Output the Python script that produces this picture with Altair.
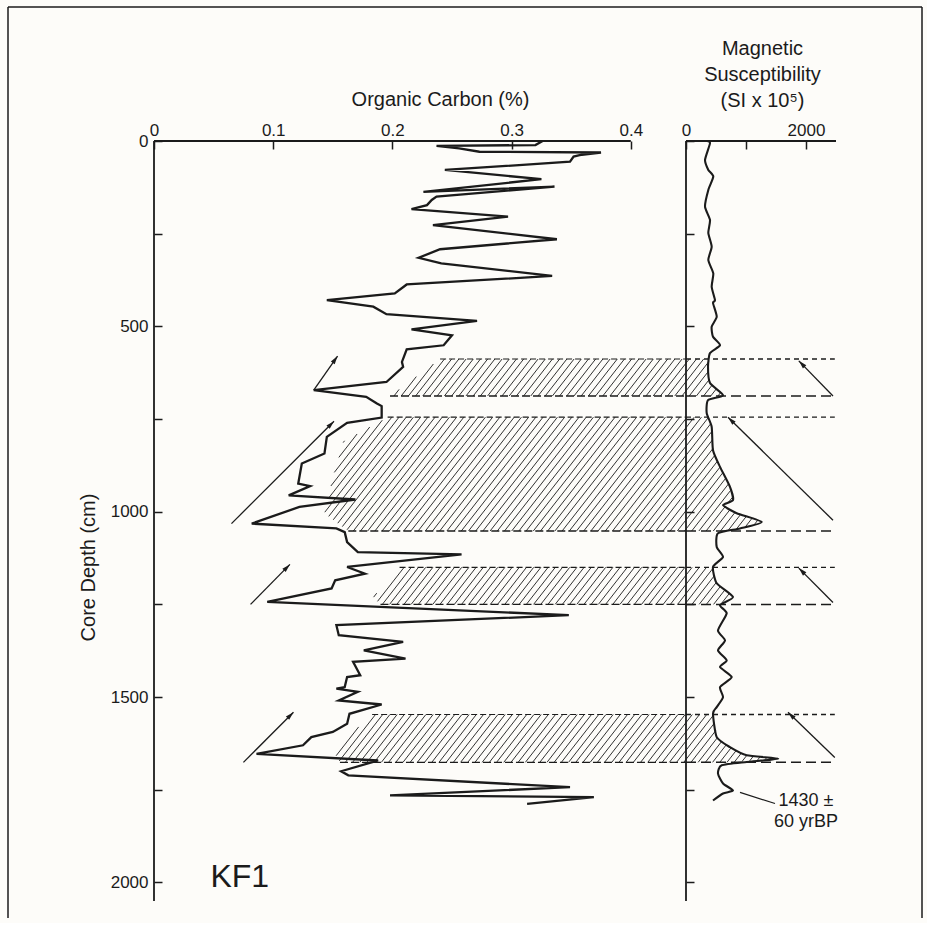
import math
import numpy as np
import pandas as pd
import altair as alt

# ---------------- data ----------------
oc_depth = [0, 11, 13, 20, 29, 31, 38, 42, 56, 78, 103, 137, 123, 150, 159, 173, 184, 204, 227, 265,
            292, 315, 330, 364, 387, 411, 429, 447, 467, 485, 508, 524, 551, 562, 596, 609, 650, 672, 690, 708,
            715, 746, 760, 798, 843, 870, 924, 931, 956, 967, 987, 1032, 1045, 1055, 1082, 1109, 1115, 1149, 1167, 1185,
            1207, 1243, 1279, 1306, 1333, 1351, 1374, 1396, 1405, 1441, 1446, 1473, 1477, 1486, 1509, 1520, 1545, 1572, 1594, 1608,
            1630, 1653, 1671, 1700, 1711, 1743, 1765, 1770, 1788]
oc_value = [0.326, 0.320, 0.237, 0.256, 0.273, 0.375, 0.357, 0.352, 0.349, 0.244, 0.325, 0.226, 0.336, 0.237, 0.233, 0.229, 0.216, 0.297, 0.234, 0.338,
            0.240, 0.222, 0.241, 0.334, 0.212, 0.202, 0.145, 0.184, 0.195, 0.271, 0.216, 0.250, 0.243, 0.212, 0.208, 0.209, 0.195, 0.134, 0.178, 0.187,
            0.191, 0.191, 0.162, 0.145, 0.143, 0.124, 0.121, 0.131, 0.113, 0.169, 0.122, 0.082, 0.153, 0.160, 0.162, 0.171, 0.258, 0.162, 0.177, 0.152,
            0.149, 0.095, 0.348, 0.153, 0.155, 0.209, 0.176, 0.211, 0.167, 0.173, 0.162, 0.160, 0.153, 0.171, 0.155, 0.191, 0.164, 0.162, 0.150, 0.132,
            0.125, 0.086, 0.188, 0.157, 0.163, 0.349, 0.198, 0.369, 0.313]

ms_depth = [0, 6, 51, 78, 96, 132, 177, 213, 248, 285, 321, 357, 393, 429, 437, 474, 501, 528, 551, 572,
            609, 653, 686, 699, 734, 771, 834, 879, 933, 969, 982, 1004, 1028, 1045, 1058, 1095, 1122, 1149, 1193, 1230,
            1252, 1274, 1320, 1347, 1374, 1401, 1419, 1446, 1473, 1500, 1527, 1544, 1608, 1635, 1657, 1666, 1675, 1684, 1706, 1733,
            1752, 1760, 1779]
ms_value = [345, 400, 317, 372, 455, 372, 317, 400, 372, 428, 372, 455, 428, 483, 450, 512, 428, 450, 567, 400,
            367, 400, 617, 367, 345, 428, 450, 567, 733, 783, 617, 845, 1262, 900, 533, 512, 617, 450, 512, 783,
            567, 678, 533, 650, 533, 678, 567, 762, 567, 617, 512, 450, 512, 733, 1012, 1538, 1012, 595, 533, 617,
            783, 617, 450]

band_top = [588, 745, 1150, 1547]
band_bottom = [688, 1052, 1250, 1676]
hatch_left_depth = [[588, 688], [745, 810, 907, 1005, 1052], [1150, 1230, 1250], [1547, 1644, 1676]]
hatch_left_value = [[0.240, 0.198], [0.196, 0.159, 0.150, 0.143, 0.163], [0.206, 0.184, 0.190], [0.183, 0.150, 0.156]]

oc_arrow_tail_value = [0.134, 0.065, 0.081, 0.075]
oc_arrow_tail_depth = [672, 1032, 1250, 1676]
oc_arrow_head_value = [0.154, 0.151, 0.114, 0.117]
oc_arrow_head_depth = [580, 756, 1142, 1541]
ms_arrow_tail_value = [2450, 2450, 2450, 2480]
ms_arrow_tail_depth = [688, 1023, 1245, 1663]
ms_arrow_head_value = [1880, 700, 1880, 1700]
ms_arrow_head_depth = [593, 745, 1152, 1541]

oc_ticks = [0, 0.1, 0.2, 0.3, 0.4]
ms_ticks = [0, 1000, 2000]
depth_ticks = list(range(0, 2001, 250))

date_label = ["1430 ±", "60 yrBP"]
date_label_value = [2000, 2000]
date_label_depth = [1779, 1838]
date_leader_value = [900, 1483]
date_leader_depth = [1757, 1787]

core_name = ["KF1"]
core_name_value = [0.072]
core_name_depth = [1984]

# ---------------- layout constants ----------------
FONT = "Liberation Sans"
INK = "#1b1b1b"
LW, RW, H = 532, 150, 760
XMAX_L = 0.4463
XMAX_R = 2500
YMAX = 2050
sx = LW / XMAX_L
sy = H / YMAX
rx = RW / XMAX_R

# ---------------- hatch computation (in pixel space, converted back to data) ----------------
ms_d = np.array(ms_depth, float)
ms_v = np.array(ms_value, float)
theta = math.radians(52)
cot = 1.0 / math.tan(theta)
sp = 7.2
hl_rows, hr_rows = [], []
for b in range(len(band_top)):
    Y1, Y2 = band_top[b] * sy, band_bottom[b] * sy
    Ys = np.arange(Y1, Y2 + 1e-6, 0.2)
    Ds = Ys / sy
    Lx = np.interp(Ds, hatch_left_depth[b], hatch_left_value[b]) * sx
    Rx = LW + np.interp(Ds, ms_d, ms_v) * rx
    kmin = int(np.floor((Lx.min() + Y1 * cot) / sp)) - 1
    kmax = int(np.ceil((Rx.max() + Y2 * cot) / sp)) + 1
    for k in range(kmin, kmax + 1):
        X = k * sp - Ys * cot
        inside = (X >= Lx) & (X <= Rx)
        idx = np.where(inside)[0]
        if len(idx) == 0:
            continue
        br = np.where(np.diff(idx) > 1)[0]
        starts = np.concatenate([[idx[0]], idx[br + 1]])
        ends = np.concatenate([idx[br], [idx[-1]]])
        for s, e in zip(starts, ends):
            ya, yb = Ys[s], Ys[e]
            xa, xb = X[s], X[e]
            if math.hypot(xa - xb, ya - yb) < 1.5:
                continue
            segs = []
            if xb >= LW:
                segs.append(("R", xb, yb, xa, ya))
            elif xa <= LW:
                segs.append(("L", xb, yb, xa, ya))
            else:
                ysplit = (k * sp - LW) / cot
                segs.append(("L", xb, yb, LW, ysplit))
                segs.append(("R", LW, ysplit, xa, ya))
            for side, x0, y0, x1, y1 in segs:
                if side == "L":
                    hl_rows.append({"x0": x0 / sx, "x1": x1 / sx, "y0": y0 / sy, "y1": y1 / sy})
                else:
                    hr_rows.append({"x0": (x0 - LW) / rx, "x1": (x1 - LW) / rx, "y0": y0 / sy, "y1": y1 / sy})
df_hl = pd.DataFrame(hl_rows)
df_hr = pd.DataFrame(hr_rows)

# ---------------- tables ----------------
df_oc = pd.DataFrame({"depth": oc_depth, "value": oc_value, "i": range(len(oc_depth))})
df_ms = pd.DataFrame({"depth": ms_depth, "value": ms_value, "i": range(len(ms_depth))})

df_edge_top_L = pd.DataFrame({"x0": [v[0] for v in hatch_left_value], "x1": [XMAX_L] * 4, "y": band_top})
df_edge_bot_L = pd.DataFrame({"x0": [v[-1] for v in hatch_left_value], "x1": [XMAX_L] * 4, "y": band_bottom})
df_edge_top_R = pd.DataFrame({"x0": [0] * 4, "x1": [XMAX_R - 20] * 4, "y": band_top})
df_edge_bot_R = pd.DataFrame({"x0": [0] * 4, "x1": [XMAX_R - 20] * 4, "y": band_bottom})


def head_angle(tv, td, hv, hd, scx):
    dx = (hv - tv) * scx
    dy = (hd - td) * sy
    return math.degrees(math.atan2(dx, -dy)) % 360


df_arr_L = pd.DataFrame({"tv": oc_arrow_tail_value, "td": oc_arrow_tail_depth,
                         "hv": oc_arrow_head_value, "hd": oc_arrow_head_depth})
df_arr_L["ang"] = [head_angle(a, b, c, d, sx) for a, b, c, d in
                   zip(oc_arrow_tail_value, oc_arrow_tail_depth, oc_arrow_head_value, oc_arrow_head_depth)]
df_arr_R = pd.DataFrame({"tv": ms_arrow_tail_value, "td": ms_arrow_tail_depth,
                         "hv": ms_arrow_head_value, "hd": ms_arrow_head_depth})
df_arr_R["ang"] = [head_angle(a, b, c, d, rx) for a, b, c, d in
                   zip(ms_arrow_tail_value, ms_arrow_tail_depth, ms_arrow_head_value, ms_arrow_head_depth)]

ARROW = "M0,0L0.28,1L-0.28,1Z"

# ---------------- axes & encodings ----------------
ax_oc = alt.Axis(orient="top", values=oc_ticks,
                 labelExpr="datum.value == 0 ? '0' : format(datum.value, '.1f')",
                 domain=False, tickSize=8, tickWidth=1.5, offset=-8, labelPadding=2,
                 labelFontSize=17, labelFlush=False, labelOverlap=False,
                 title="Organic Carbon (%)", titleFontSize=20, titleX=286, titleY=-44,
                 titleAlign="center", titleBaseline="alphabetic")
ax_depth = alt.Axis(orient="left", values=depth_ticks, format="d",
                    labelExpr="datum.value % 500 == 0 ? datum.label : ''",
                    domain=False, tickSize=8, tickWidth=1.5, offset=-8, labelPadding=6,
                    labelFontSize=17, labelOverlap=False,
                    title="Core Depth (cm)", titleFontSize=20, titleX=-74, titleY=426,
                    titleAlign="center", titleBaseline="middle", titleAngle=270)
ax_ms = alt.Axis(orient="top", values=ms_ticks, format="d",
                 labelExpr="datum.value == 1000 ? '' : datum.label",
                 domain=False, tickSize=8, tickWidth=1.5, offset=-8, labelPadding=2,
                 labelFontSize=17, labelFlush=False, labelOverlap=False,
                 title=["Magnetic", "Susceptibility", "(SI x 10⁵)"], titleFontSize=20,
                 titleLineHeight=26, titleX=76, titleY=-91,
                 titleAlign="center", titleBaseline="bottom")
ax_ms_depth = alt.Axis(orient="left", values=depth_ticks, labels=False, domain=False,
                       tickSize=8, tickWidth=1.5, offset=-8, title=None)

xs_L = alt.Scale(domain=[0, XMAX_L], nice=False, zero=False)
xs_R = alt.Scale(domain=[0, XMAX_R], nice=False, zero=False)
ys = alt.Scale(domain=[0, YMAX], reverse=True, nice=False, zero=False)


def LX(f):
    return alt.X(f, type="quantitative", scale=xs_L, axis=ax_oc)


def LY(f):
    return alt.Y(f, type="quantitative", scale=ys, axis=ax_depth)


def RX(f):
    return alt.X(f, type="quantitative", scale=xs_R, axis=ax_ms)


def RY(f):
    return alt.Y(f, type="quantitative", scale=ys, axis=ax_ms_depth)


# ---------------- left panel ----------------
hatch_L = alt.Chart(df_hl).mark_rule(strokeWidth=0.9, color=INK).encode(
    x=LX("x0"), x2="x1", y=LY("y0"), y2="y1")
edge_top_L = alt.Chart(df_edge_top_L).mark_rule(strokeWidth=1.2, color=INK, strokeDash=[6, 3]).encode(
    x=LX("x0"), x2="x1", y=LY("y"))
edge_bot_L = alt.Chart(df_edge_bot_L).mark_rule(strokeWidth=1.4, color=INK, strokeDash=[8, 3]).encode(
    x=LX("x0"), x2="x1", y=LY("y"))
oc_line = alt.Chart(df_oc).mark_line(strokeWidth=2.3, color=INK).encode(
    x=LX("value"), y=LY("depth"), order="i:Q")
axisL_v = alt.Chart(pd.DataFrame({"x0": [0], "y0": [0], "y1": [YMAX]})).mark_rule(strokeWidth=1.8, color=INK).encode(
    x=LX("x0"), y=LY("y0"), y2="y1")
axisL_h = alt.Chart(pd.DataFrame({"x0": [0], "x1": [0.4], "y0": [0]})).mark_rule(strokeWidth=1.8, color=INK).encode(
    x=LX("x0"), x2="x1", y=LY("y0"))
arr_L = alt.Chart(df_arr_L).mark_rule(strokeWidth=1.3, color=INK).encode(
    x=LX("tv"), x2="hv", y=LY("td"), y2="hd")
head_L = alt.Chart(df_arr_L).mark_point(shape=ARROW, filled=True, size=280, color=INK, opacity=1, strokeWidth=0).encode(
    x=LX("hv"), y=LY("hd"), angle=alt.Angle("ang:Q", scale=None))
kf1 = alt.Chart(pd.DataFrame({"t": core_name, "v": core_name_value, "d": core_name_depth})).mark_text(
    font=FONT, fontSize=32, color=INK, align="center", baseline="middle").encode(
    x=LX("v"), y=LY("d"), text="t:N")
frame_df = pd.DataFrame({"a": [0]})
frame_l = alt.Chart(frame_df).mark_rule(strokeWidth=1.5, color=INK).encode(
    x=alt.value(-146), y=alt.value(-134), y2=alt.value(777))
frame_t = alt.Chart(frame_df).mark_rule(strokeWidth=1.5, color=INK).encode(
    x=alt.value(-146), x2=alt.value(768), y=alt.value(-134))
frame_r = alt.Chart(frame_df).mark_rule(strokeWidth=1.5, color=INK).encode(
    x=alt.value(768), y=alt.value(-134), y2=alt.value(777))

left = alt.layer(hatch_L, edge_top_L, edge_bot_L, oc_line, axisL_v, axisL_h, arr_L, head_L, kf1,
                 frame_l, frame_t, frame_r).properties(width=LW, height=H)

# ---------------- right panel ----------------
hatch_R = alt.Chart(df_hr).mark_rule(strokeWidth=0.9, color=INK).encode(
    x=RX("x0"), x2="x1", y=RY("y0"), y2="y1")
edge_top_R = alt.Chart(df_edge_top_R).mark_rule(strokeWidth=1.3, color=INK, strokeDash=[5, 4]).encode(
    x=RX("x0"), x2="x1", y=RY("y"))
edge_bot_R = alt.Chart(df_edge_bot_R).mark_rule(strokeWidth=1.5, color=INK, strokeDash=[10, 5]).encode(
    x=RX("x0"), x2="x1", y=RY("y"))
ms_line = alt.Chart(df_ms).mark_line(strokeWidth=2.1, color=INK, interpolate="cardinal", tension=0.4).encode(
    x=RX("value"), y=RY("depth"), order="i:Q")
axisR_v = alt.Chart(pd.DataFrame({"x0": [0], "y0": [0], "y1": [YMAX]})).mark_rule(strokeWidth=1.8, color=INK).encode(
    x=RX("x0"), y=RY("y0"), y2="y1")
axisR_h = alt.Chart(pd.DataFrame({"x0": [0], "x1": [XMAX_R], "y0": [0]})).mark_rule(strokeWidth=1.8, color=INK).encode(
    x=RX("x0"), x2="x1", y=RY("y0"))
arr_R = alt.Chart(df_arr_R).mark_rule(strokeWidth=1.3, color=INK).encode(
    x=RX("tv"), x2="hv", y=RY("td"), y2="hd")
head_R = alt.Chart(df_arr_R).mark_point(shape=ARROW, filled=True, size=280, color=INK, opacity=1, strokeWidth=0).encode(
    x=RX("hv"), y=RY("hd"), angle=alt.Angle("ang:Q", scale=None))
leader = alt.Chart(pd.DataFrame({"v0": [date_leader_value[0]], "v1": [date_leader_value[1]],
                                 "d0": [date_leader_depth[0]], "d1": [date_leader_depth[1]]})).mark_rule(
    strokeWidth=1.2, color=INK).encode(x=RX("v0"), x2="v1", y=RY("d0"), y2="d1")
date_txt = alt.Chart(pd.DataFrame({"t": date_label, "v": date_label_value, "d": date_label_depth})).mark_text(
    font=FONT, fontSize=18, color=INK, align="center", baseline="middle").encode(
    x=RX("v"), y=RY("d"), text="t:N")

right = alt.layer(hatch_R, edge_top_R, edge_bot_R, ms_line, axisR_v, axisR_h, arr_R, head_R,
                  leader, date_txt).properties(width=RW, height=H)

chart = alt.hconcat(left, right, spacing=0, bounds="flush").properties(
    padding={"left": 7, "top": 6, "right": 4, "bottom": 4},
    background="#fdfcf9",
).configure_view(stroke=None).configure_axis(
    labelFont=FONT, titleFont=FONT, labelColor=INK, titleColor=INK, tickColor=INK,
    titleFontWeight="normal", grid=False,
)

chart.save("out.html", embed_options={"renderer": "svg", "actions": False})
